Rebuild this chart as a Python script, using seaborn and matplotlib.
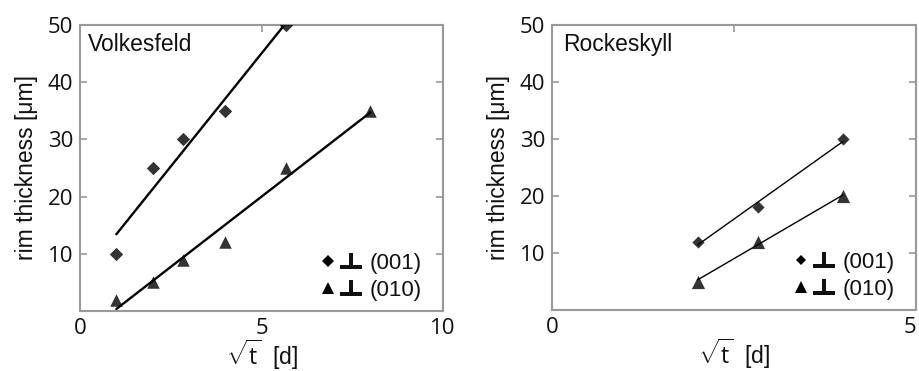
import numpy as np
import pandas as pd
import matplotlib
matplotlib.use("Agg")
import matplotlib.pyplot as plt
from matplotlib.lines import Line2D
from matplotlib.path import Path
from matplotlib.legend_handler import HandlerTuple
import seaborn as sns

# Volkesfeld: rim thickness vs sqrt(t)
volk_x_001 = [1.0, 2.0, 2.83, 4.0, 5.66]
volk_y_001 = [10, 25, 30, 35, 50]
volk_x_010 = [1.0, 2.0, 2.83, 4.0, 5.66, 8.0]
volk_y_010 = [2, 5, 9, 12, 25, 35]

# Rockeskyll
rock_x_001 = [2.0, 2.83, 4.0]
rock_y_001 = [12, 18, 30]
rock_x_010 = [2.0, 2.83, 4.0]
rock_y_010 = [5, 12, 20]

labels = ["(001)", "(010)"]
yticks = [10, 20, 30, 40, 50]

sns.set_theme(style="white")
plt.rcParams["font.family"] = ["Liberation Sans", "DejaVu Sans"]
plt.rcParams["mathtext.fontset"] = "custom"
plt.rcParams["mathtext.rm"] = "Open Sans"
plt.rcParams["mathtext.it"] = "Open Sans"

SPINE = "#999999"
TXT = "#111111"

# heavy "perpendicular to" sign used in the legend entries
PERP = Path([(-0.5, -0.38), (0.5, -0.38), (0.5, -0.2), (0.09, -0.2),
             (0.09, 0.38), (-0.09, 0.38), (-0.09, -0.2), (-0.5, -0.2),
             (-0.5, -0.38)], closed=True)

fig = plt.figure(figsize=(9.2, 3.71), dpi=100)
ax1 = fig.add_axes([0.087, 0.1617, 0.3946, 0.771])
ax2 = fig.add_axes([0.6003, 0.1644, 0.3953, 0.768])


def style_axes(ax, xmax, xticks, xlabels, top_tick):
    ax.set_xlim(0, xmax)
    ax.set_ylim(0, 50)
    ax.set_xticks(xticks)
    ax.set_xticklabels(xlabels)
    ax.set_yticks(yticks)
    ax.set_yticklabels([str(v) for v in yticks])
    for sp in ax.spines.values():
        sp.set_color(SPINE)
        sp.set_linewidth(1.5)
    ax.tick_params(axis="both", direction="in", length=5, width=1.2,
                   color=SPINE, labelcolor=TXT, labelsize=16,
                   labelfontfamily="Open Sans")
    ax.tick_params(axis="y", right=True, left=True, pad=5)
    ax.tick_params(axis="x", pad=5)
    sec = ax.secondary_xaxis("top")
    sec.set_xticks([top_tick])
    sec.set_xticklabels([])
    sec.tick_params(direction="in", length=5, width=1.2, color=SPINE)
    sec.spines["top"].set_visible(False)
    ax.set_ylabel("rim thickness [\u03bcm]", fontsize=16.5, color=TXT, labelpad=7)
    ax.set_xlabel(r"$\sqrt{\mathrm{t}}$  [d]", fontsize=16.5, color=TXT, labelpad=-1)


def draw(ax, x1, y1, x2, y2, lw, ms_d, ms_t):
    d1 = pd.DataFrame({"x": x1, "y": y1})
    d2 = pd.DataFrame({"x": x2, "y": y2})
    sns.regplot(data=d1, x="x", y="y", ax=ax, ci=None, marker="D", color="black",
                scatter_kws={"s": ms_d ** 2, "linewidths": 0, "zorder": 3},
                line_kws={"lw": lw, "zorder": 2})
    sns.regplot(data=d2, x="x", y="y", ax=ax, ci=None, marker="^", color="black",
                scatter_kws={"s": ms_t ** 2, "linewidths": 0, "zorder": 3},
                line_kws={"lw": lw, "zorder": 2})


def add_legend(ax, ms_d, ms_t):
    perp = Line2D([], [], ls="none", marker=PERP, markersize=16,
                  color="#111111", markeredgewidth=0)
    dia = Line2D([], [], ls="none", marker="D", markersize=ms_d * 0.9,
                 color="black", markeredgewidth=0)
    tri = Line2D([], [], ls="none", marker="^", markersize=ms_t * 0.95,
                 color="black", markeredgewidth=0)
    ax.legend([(dia, perp), (tri, perp)], labels,
              handler_map={tuple: HandlerTuple(ndivide=None, pad=0)},
              loc="lower right", bbox_to_anchor=(0.965, 0.005), frameon=False,
              prop={"family": ["Liberation Sans", "DejaVu Sans"], "size": 16},
              handlelength=2.1, handletextpad=0.3, labelspacing=0.25,
              borderpad=0.2, borderaxespad=0.2, labelcolor=TXT)


draw(ax1, volk_x_001, volk_y_001, volk_x_010, volk_y_010, 1.7, 6.8, 9.0)
draw(ax2, rock_x_001, rock_y_001, rock_x_010, rock_y_010, 1.0, 6.2, 9.5)

style_axes(ax1, 10, [0, 5, 10], ["0", "5", "10"], 5)
style_axes(ax2, 5, [0, 1, 2, 3, 4, 5], ["0", "", "", "", "", "5"], 2.5)
# keep the last label on the right panel inside the figure
ax2.get_xticklabels()[-1].set_horizontalalignment("right")
ax2.get_xticklabels()[-1].set_x(5.06)

ax1.text(0.022, 0.91, "Volkesfeld", transform=ax1.transAxes, fontsize=16.5,
         color=TXT, va="baseline", ha="left")
ax2.text(0.03, 0.91, "Rockeskyll", transform=ax2.transAxes, fontsize=16.5,
         color=TXT, va="baseline", ha="left")

add_legend(ax1, 6.8, 9.0)
add_legend(ax2, 6.2, 9.5)

fig.savefig("out.png", dpi=100)
